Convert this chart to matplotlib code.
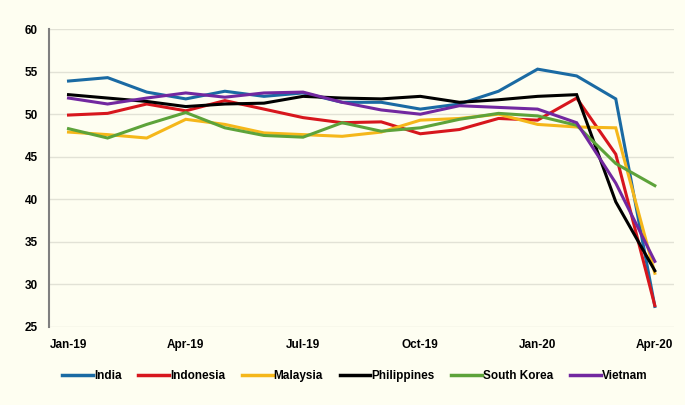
import matplotlib
matplotlib.use("Agg")
import matplotlib.pyplot as plt
from matplotlib import font_manager

months = ["Jan-19", "Feb-19", "Mar-19", "Apr-19", "May-19", "Jun-19", "Jul-19", "Aug-19",
          "Sep-19", "Oct-19", "Nov-19", "Dec-19", "Jan-20", "Feb-20", "Mar-20", "Apr-20"]

india       = [53.9, 54.3, 52.6, 51.8, 52.7, 52.1, 52.5, 51.4, 51.4, 50.6, 51.2, 52.7, 55.3, 54.5, 51.8, 27.4]
indonesia   = [49.9, 50.1, 51.2, 50.4, 51.6, 50.6, 49.6, 49.0, 49.1, 47.7, 48.2, 49.5, 49.3, 51.9, 45.3, 27.5]
malaysia    = [47.9, 47.6, 47.2, 49.4, 48.8, 47.8, 47.6, 47.4, 47.9, 49.3, 49.5, 50.0, 48.8, 48.5, 48.4, 31.3]
philippines = [52.3, 51.9, 51.5, 50.9, 51.2, 51.3, 52.1, 51.9, 51.8, 52.1, 51.4, 51.7, 52.1, 52.3, 39.7, 31.6]
south_korea = [48.3, 47.2, 48.8, 50.2, 48.4, 47.5, 47.3, 49.0, 48.0, 48.4, 49.4, 50.1, 49.8, 48.7, 44.2, 41.6]
vietnam     = [51.9, 51.2, 51.9, 52.5, 52.0, 52.5, 52.6, 51.4, 50.5, 50.0, 51.0, 50.8, 50.6, 49.0, 41.9, 32.7]

series_names = ["India", "Indonesia", "Malaysia", "Philippines", "South Korea", "Vietnam"]
series_values = [india, indonesia, malaysia, philippines, south_korea, vietnam]
colors = ["#1A6AA3", "#D7161D", "#F5B71A", "#000000", "#5DA33A", "#7228A0"]

y_ticks = [25, 30, 35, 40, 45, 50, 55, 60]

fams = [f.name for f in font_manager.fontManager.ttflist]
font = "Liberation Sans Narrow" if "Liberation Sans Narrow" in fams else "Liberation Sans"
plt.rcParams["font.family"] = [font, "DejaVu Sans"]

bg = "#FEFEF1"
fig = plt.figure(figsize=(6.85, 4.05), dpi=100, facecolor=bg)
ax = fig.add_axes([0.0715, 0.193, 0.913, 0.735], facecolor=bg)

x = list(range(len(months)))
for name, vals, c in zip(series_names, series_values, colors):
    ax.plot(x, vals, color=c, lw=2.2, label=name, solid_joinstyle="miter")

ax.set_xlim(-0.5, 15.5)
ax.set_ylim(25, 60)
ax.set_yticks(y_ticks)
ax.set_yticklabels([str(t) for t in y_ticks], fontsize=8.5, fontweight="bold")
ax.set_xticks(x[::3])
ax.set_xticklabels(months[::3], fontsize=8.5, fontweight="bold")
ax.tick_params(axis="x", length=0, pad=9)
ax.tick_params(axis="y", length=0, pad=8)
ax.grid(axis="y", color="#E2E2D6", lw=1)
ax.set_axisbelow(True)
for s in ["top", "right", "bottom"]:
    ax.spines[s].set_visible(False)
ax.spines["left"].set_color("#7F7F7F")
ax.spines["left"].set_linewidth(1.5)

leg = fig.legend(loc="center", bbox_to_anchor=(0.518, 0.072), ncol=6, frameon=False,
                 handlelength=2.6, handletextpad=0.1, columnspacing=1.4,
                 prop={"size": 8.5, "weight": "bold", "family": [font, "DejaVu Sans"]})
for line in leg.get_lines():
    line.set_linewidth(2.5)

fig.savefig("out.png", dpi=100, facecolor=bg)
